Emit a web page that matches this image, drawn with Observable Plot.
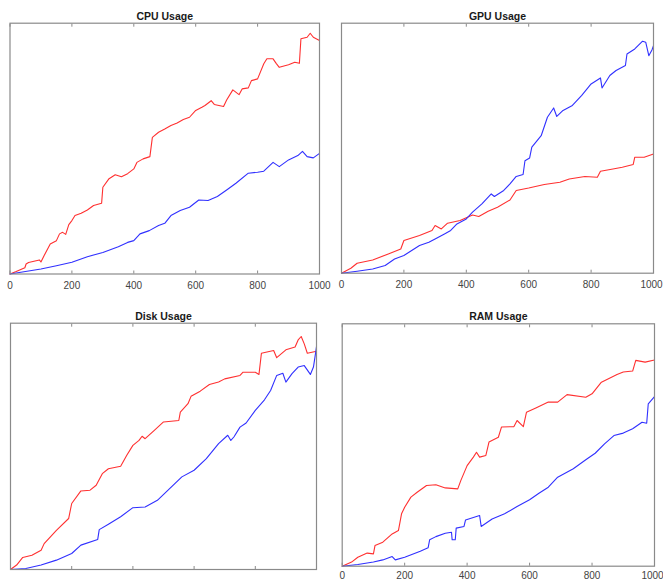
<!DOCTYPE html>
<html>
<head>
<meta charset="utf-8">
<script src="https://cdn.jsdelivr.net/npm/d3@7"></script>
<script src="https://cdn.jsdelivr.net/npm/@observablehq/plot@0.6"></script>
<style>
  html, body { margin: 0; padding: 0; background: #fff; }
  #wrap { position: relative; width: 663px; height: 582px; overflow: hidden; }
  .panel { position: absolute; }
</style>
</head>
<body>
<div id="wrap"></div>
<script>
// ---- data (x, usage value on a 0–100 scale of each panel) ----
const xTicks = [0, 200, 400, 600, 800, 1000];

const cpuRed = [[0,0],[20,1],[48,2.5],[52,4],[60,4.6],[95,5.6],[100,4.8],[110,7.3],[130,12],[150,13.3],[160,16],[170,16.6],[180,15.8],[190,19.7],[200,21.3],[210,23.3],[230,24.2],[250,25.5],[270,27.3],[296,28.2],[300,34.6],[320,38],[340,39.6],[360,38.8],[380,40],[400,41.9],[410,44.5],[430,45.9],[452,46.8],[460,54.5],[480,56.5],[500,57.8],[520,59.2],[540,60.2],[560,61.6],[580,62.5],[600,65.2],[620,66.5],[630,67.2],[650,69.1],[660,67.6],[690,66.8],[700,69.4],[720,73.4],[740,71.5],[750,73.8],[770,74.2],[780,77.1],[800,77.8],[820,83.8],[830,85.8],[850,85.8],[860,84],[870,82.4],[900,83.4],[920,84.4],[935,84],[940,93.8],[960,94.4],[970,96],[980,94.4],[1000,93.1]];
const cpuBlue = [[0,0],[50,1],[100,2],[150,3.3],[200,4.7],[250,6.9],[300,8.6],[350,10.9],[380,12.6],[400,13.3],[420,16],[450,17.3],[480,19.3],[500,20.2],[520,23.3],[550,25.3],[580,26.6],[610,29.5],[640,29.3],[670,30.9],[700,33.5],[730,36.2],[770,40.2],[800,40.6],[820,41],[850,44.5],[870,42.8],[900,45.5],[930,47.2],[945,48.9],[960,46.8],[980,46.3],[1000,48.1]];

const gpuRed = [[0,0],[30,2],[50,4],[100,5.3],[150,7.7],[190,9.7],[200,13.1],[250,15.1],[290,17.1],[300,19.1],[320,17.7],[340,20],[380,21.1],[420,23.3],[440,22.7],[470,24.8],[500,26.4],[540,29.3],[560,33.1],[600,34.1],[650,35.5],[700,36.4],[730,37.7],[780,38.7],[820,38.4],[830,40.8],[870,41.7],[900,42.4],[935,43.5],[940,46.4],[970,46.4],[1000,47.7]];
const gpuBlue = [[0,0],[50,0.8],[100,1.7],[140,3.1],[170,5.7],[200,7.1],[250,11.1],[280,12.4],[300,13.7],[330,15.7],[350,17.1],[370,19.7],[400,21.7],[420,24.4],[450,27.7],[480,31.7],[490,30.7],[520,33.1],[540,35.7],[560,38.7],[582,39.5],[588,45],[603,46.1],[610,50.4],[640,55],[660,62.4],[680,66.1],[690,62.7],[710,65.1],[740,67.1],[770,71.1],[800,75.7],[830,78.1],[835,74.1],[860,79.1],[880,81.1],[910,83.1],[915,87.7],[940,89.7],[965,92.8],[975,92.4],[985,87],[995,89.3],[1000,91]];

const diskRed = [[0,0],[20,1.8],[40,4.9],[70,5.8],[100,7.8],[110,10.5],[150,15.9],[190,20.7],[200,26.8],[230,31.9],[260,32.2],[280,34.2],[300,38.9],[320,40.9],[360,41.9],[380,46.4],[400,50.4],[420,52.4],[430,54.1],[440,53.1],[470,56.5],[500,59.9],[550,60.5],[555,63.9],[580,67.3],[590,70.3],[620,72.4],[650,75.1],[680,76.1],[700,77.4],[750,78.8],[760,80.1],[800,80.1],[812,79.2],[820,87.8],[860,88.9],[870,86],[900,89.2],[930,90.3],[940,93.2],[950,94.6],[960,91.6],[970,87.8],[1000,88.6]];
const diskBlue = [[0,0],[50,0.4],[100,1.8],[150,3.8],[200,6.5],[230,9.9],[285,12.2],[290,16.2],[320,18.4],[360,21.4],[400,25.1],[440,25.4],[480,28.1],[520,32.8],[560,37.6],[600,40.3],[640,45],[680,51.1],[710,54.5],[720,52.4],[730,53.8],[750,57.8],[770,59.5],[800,64.6],[830,68.9],[850,72.7],[870,78.8],[890,79.7],[900,76.1],[920,79.5],[940,82.2],[960,82.8],[980,79.2],[990,82.2],[995,86.2],[1000,90.5]];

const ramRed = [[0,0],[30,1.7],[50,3.7],[80,5.4],[100,5.1],[105,8.5],[130,9.9],[160,13.3],[180,14.7],[190,21.6],[200,24.3],[220,28.5],[240,30.5],[270,33.3],[300,33.6],[330,32.3],[370,31.9],[380,35.4],[400,41.5],[420,45],[430,47],[440,45],[460,45.7],[470,51.2],[500,53.2],[510,57.4],[550,57.6],[560,60.1],[580,57.6],[590,63.5],[620,65.3],[660,67.7],[690,67.7],[720,70.8],[780,69.7],[800,71.1],[830,75.9],[880,79.1],[900,80.1],[930,80.5],[940,84.9],[970,84.2],[1000,85.1]];
const ramBlue = [[0,0],[50,0.7],[100,1.7],[130,2.6],[160,4],[170,2.6],[200,3.7],[250,6.2],[275,7.6],[280,10.9],[300,12.2],[330,13.6],[350,14],[352,10.9],[362,10.9],[365,15.7],[390,16.4],[395,19.1],[440,20.9],[445,16.4],[480,19.5],[520,21.6],[560,24.6],[600,27.4],[630,30.1],[660,32.6],[690,36.7],[740,40.2],[780,43.9],[810,46.6],[840,50.5],[870,53.9],[900,54.9],[930,56.7],[960,59.4],[975,59],[980,67],[1000,70]];

const titles = ["CPU Usage", "GPU Usage", "Disk Usage", "RAM Usage"];

// ---- drawing ----
const RED = "#ff3030", BLUE = "#3030ff", FRAME = "#8a8a8a", LABEL = "#444";

function panel({title, red, blue, left, top, width, height, mL, mR, mT, mB, labels, pad, lastDx}) {
  const marks = [
    Plot.line(red, {x: d => d[0], y: d => d[1], stroke: RED, strokeWidth: 1.1}),
    Plot.line(blue, {x: d => d[0], y: d => d[1], stroke: BLUE, strokeWidth: 1.1}),
    Plot.frame({stroke: FRAME, strokeWidth: 1.2}),
    Plot.axisX({anchor: "top", ticks: xTicks, tickSize: -3, tickFormat: () => "", stroke: FRAME}),
    Plot.axisX({anchor: "bottom", ticks: xTicks, tickSize: -3, tickFormat: () => "", stroke: FRAME}),
    Plot.text([title], {text: d => d, frameAnchor: "top", lineAnchor: "middle", dy: -6.8, fontWeight: "bold", fontSize: 10.5, fill: "#1a1a1a"})
  ];
  if (labels) {
    marks.push(Plot.axisX({anchor: "bottom", ticks: xTicks.slice(0, -1), tickSize: 0, tickPadding: pad, tickFormat: d => String(d), fill: LABEL, fontSize: 10}));
    marks.push(Plot.axisX({anchor: "bottom", ticks: xTicks.slice(-1), tickSize: 0, tickPadding: pad, dx: lastDx, tickFormat: d => String(d), fill: LABEL, fontSize: 10}));
  }
  const svg = Plot.plot({
    width, height,
    marginLeft: mL, marginRight: mR, marginTop: mT, marginBottom: mB,
    x: {domain: [0, 1000]},
    y: {domain: [0, 100], axis: null},
    style: {fontFamily: "'Liberation Sans', Arial, sans-serif", fontSize: "10px", background: "transparent", overflow: "visible"},
    marks
  });
  const div = document.createElement("div");
  div.className = "panel";
  div.style.left = left + "px";
  div.style.top = top + "px";
  div.appendChild(svg);
  document.getElementById("wrap").appendChild(div);
}

panel({title: titles[0], red: cpuRed, blue: cpuBlue, left: 0, top: 0, width: 330, height: 300, mL: 9.5, mR: 11, mT: 22.7, mB: 26.5, labels: true, pad: 7.5, lastDx: 0});
panel({title: titles[1], red: gpuRed, blue: gpuBlue, left: 330, top: 0, width: 333, height: 300, mL: 11, mR: 10, mT: 22.7, mB: 27.3, labels: true, pad: 7.5, lastDx: -2});
panel({title: titles[2], red: diskRed, blue: diskBlue, left: 0, top: 300, width: 330, height: 282, mL: 10, mR: 14, mT: 22.7, mB: 13, labels: false, pad: 7, lastDx: 0});
panel({title: titles[3], red: ramRed, blue: ramBlue, left: 330, top: 300, width: 333, height: 282, mL: 11.7, mR: 9, mT: 23.3, mB: 16.3, labels: true, pad: 6, lastDx: -2});
</script>
</body>
</html>
